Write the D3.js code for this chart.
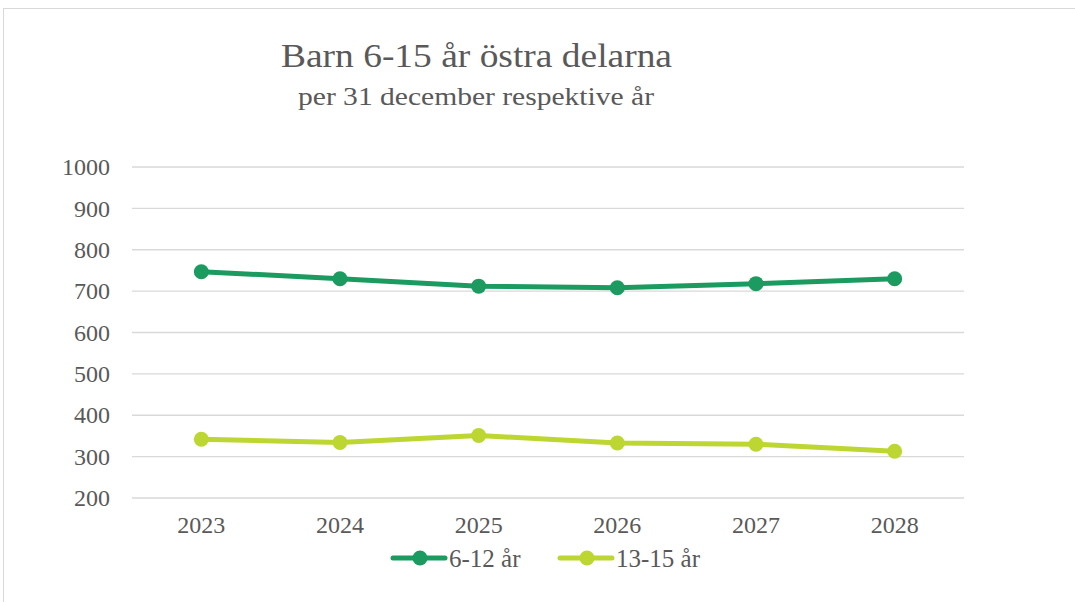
<!DOCTYPE html>
<html>
<head>
<meta charset="utf-8">
<script src="https://cdn.jsdelivr.net/npm/d3@7"></script>
<style>
  body { margin: 0; background: #fff; }
  svg { display: block; font-family: "Liberation Serif", "Times New Roman", serif; }
  .grid line { stroke: #d9d9d9; stroke-width: 1.3px; }
  .axis text { fill: #595959; font-size: 24px; font-family: "Liberation Serif", "Times New Roman", serif; }
</style>
</head>
<body>
<svg id="chart" width="1075" height="602"></svg>
<script>
const years = ["2023", "2024", "2025", "2026", "2027", "2028"];
const barn612 = [747, 730, 712, 708, 718, 730];
const barn1315 = [342, 334, 351, 333, 330, 313];
const yTicks = [200, 300, 400, 500, 600, 700, 800, 900, 1000];
const seriesNames = ["6-12 år", "13-15 år"];
const seriesColors = ["#1b9b60", "#bdd632"];

const svg = d3.select("#chart");
const W = 1075, H = 602;
const plot = { left: 132, right: 964, top: 167, bottom: 498 };

// outer chart frame
svg.append("rect").attr("x", 3.5).attr("y", 8.5).attr("width", W + 10).attr("height", H + 10)
  .attr("fill", "none").attr("stroke", "#d9d9d9").attr("stroke-width", 1);

// titles (reference text is a bit wide, so stretch to measured width)
svg.append("text").attr("x", 281).attr("y", 67)
  .attr("textLength", 391).attr("lengthAdjust", "spacingAndGlyphs")
  .attr("fill", "#595959").style("font-size", "34px").text("Barn 6-15 år östra delarna");
svg.append("text").attr("x", 298).attr("y", 105)
  .attr("textLength", 356).attr("lengthAdjust", "spacingAndGlyphs")
  .attr("fill", "#595959").style("font-size", "26px").text("per 31 december respektive år");

const x = d3.scaleBand().domain(years).range([plot.left, plot.right]);
const y = d3.scaleLinear().domain([200, 1000]).range([plot.bottom, plot.top]);

// gridlines
svg.append("g").attr("class", "grid")
  .selectAll("line").data(yTicks).join("line")
  .attr("x1", plot.left).attr("x2", plot.right)
  .attr("y1", d => y(d)).attr("y2", d => y(d));

// y axis labels
const yAxis = d3.axisLeft(y).tickValues(yTicks).tickFormat(d3.format("d")).tickSize(0).tickPadding(22);
svg.append("g").attr("class", "axis").attr("transform", `translate(${plot.left},0)`)
  .call(yAxis).call(g => g.select(".domain").remove());

// x axis labels
const xAxis = d3.axisBottom(x).tickSize(0).tickPadding(18);
svg.append("g").attr("class", "axis").attr("transform", `translate(0,${plot.bottom})`)
  .call(xAxis).call(g => g.select(".domain").remove());

const lineGen = d3.line().x((d, i) => x(years[i]) + x.bandwidth() / 2).y(d => y(d));

[barn612, barn1315].forEach((vals, s) => {
  svg.append("path").datum(vals)
    .attr("fill", "none").attr("stroke", seriesColors[s]).attr("stroke-width", 5)
    .attr("stroke-linejoin", "round").attr("d", lineGen);
  svg.append("g").selectAll("circle").data(vals).join("circle")
    .attr("cx", (d, i) => x(years[i]) + x.bandwidth() / 2)
    .attr("cy", d => y(d)).attr("r", 7.5).attr("fill", seriesColors[s]);
});

/* ---------- legend ---------- */
const legendX = [393, 560];
const legend = svg.append("g").attr("transform", "translate(0,558)");
seriesNames.forEach((name, s) => {
  const lg = legend.append("g").attr("transform", `translate(${legendX[s]},0)`);
  lg.append("line").attr("x1", 0).attr("x2", 52).attr("stroke", seriesColors[s])
    .attr("stroke-width", 5).attr("stroke-linecap", "round");
  lg.append("circle").attr("cx", 27).attr("r", 7.5).attr("fill", seriesColors[s]);
  lg.append("text").attr("x", 56).attr("y", 9).attr("fill", "#595959")
    .style("font-size", "25px").text(name);
});
</script>
</body>
</html>
